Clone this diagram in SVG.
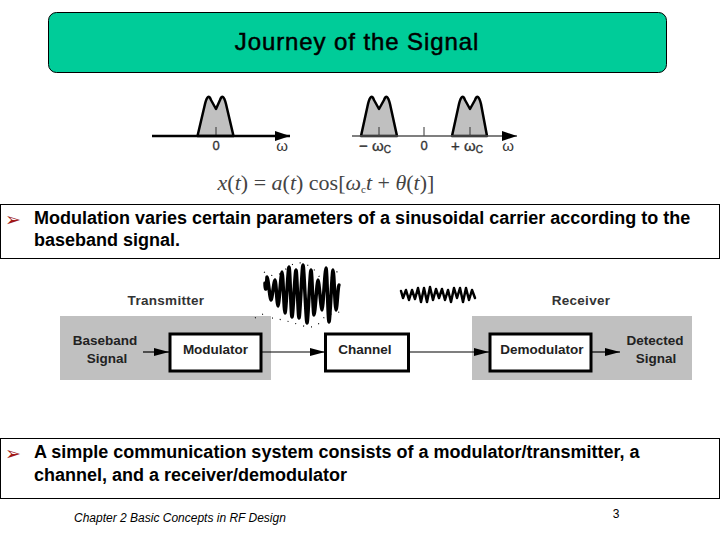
<svg xmlns="http://www.w3.org/2000/svg" width="720" height="540" viewBox="0 0 720 540">
<defs>
<style>
text{font-family:"Liberation Sans",Arial,sans-serif;fill:#000}
.b{font-size:18px;font-weight:bold}
.m{font-family:"DejaVu Sans",sans-serif;font-size:19px;fill:#a01818}
.d{font-size:13.5px;font-weight:bold;fill:#222}
.l{font-size:13.500px;font-weight:bold;fill:#333;letter-spacing:.3px}
.s{font-size:13px;fill:#333}
.h{stroke:#333;stroke-width:.35px}
.box{fill:#fff;stroke:#000;stroke-width:3}
.grey{fill:#c0c0c0}
.bump{fill:#c0c0c0;stroke:#000;stroke-width:2.500;stroke-linejoin:round}
.lnk{stroke:#000;stroke-width:1.200;fill:none}
.wave{fill:none;stroke:#000;stroke-width:3.500;stroke-linejoin:round;stroke-linecap:round}
.env{fill:none;stroke:#000;stroke-width:1.200;stroke-dasharray:1 7}
.tick{stroke:#333;stroke-width:1}
</style>
<marker id="ah" markerUnits="userSpaceOnUse" markerWidth="15" markerHeight="8" refX="15" refY="4" orient="auto"><path d="M0 0L15 4L0 8z" fill="#000"/></marker>
<marker id="ax" markerUnits="userSpaceOnUse" markerWidth="15" markerHeight="10" refX="15" refY="5" orient="auto"><path d="M0 0L15 5L0 10z" fill="#000"/></marker>
</defs>
<rect width="720" height="540" fill="#fff"/>
<g id="title"><rect x="48.500" y="12.500" width="618" height="60" rx="8" fill="#00cc99" stroke="#000" stroke-width="1"/><text x="357" y="50" text-anchor="middle" font-size="24" letter-spacing=".9" stroke="#000" stroke-width=".5">Journey of the Signal</text></g>

<g id="spectrum-baseband">
<path class="bump" d="M197.500 136L205 104Q208 92 211 100L216 109L220 100Q223 92 226 104L233.500 136z"/>
<path class="tick" d="M216 127V136"/>
<path d="M152 136H290" stroke="#000" stroke-width="2.500" marker-end="url(#ax)"/>
<text class="s h" x="216" y="150" text-anchor="middle">0</text>
<text class="s" x="282" y="151" text-anchor="middle" style="font-size:15px">ω</text>
</g>
<g id="spectrum-passband">
<path class="bump" d="M361 136L368 104Q371 92 374 100L379 109L384 100Q387 92 390 104L397 136z"/>
<path class="bump" d="M452 136L459 104Q462 92 465 100L470 109L475 100Q478 92 481 104L487 136z"/>
<path class="tick" d="M379 127V136M424 127V136M470 127V136"/>
<path d="M352 136H517" stroke="#555" stroke-width="1.500" marker-end="url(#ax)"/>
<text class="s h" x="375" y="151" text-anchor="middle" style="font-size:15px">− ω<tspan font-size="10" dy="2">C</tspan></text>
<text class="s h" x="424" y="150" text-anchor="middle">0</text>
<text class="s h" x="467" y="151" text-anchor="middle" style="font-size:15px">+ ω<tspan font-size="10" dy="2">C</tspan></text>
<text class="s" x="508" y="151" text-anchor="middle" style="font-size:15px">ω</text>
</g>
<g id="equation"><text x="326" y="190" text-anchor="middle" font-size="22" style="font-family:'Liberation Serif',serif;fill:#444"><tspan font-style="italic">x</tspan>(<tspan font-style="italic">t</tspan>) = <tspan font-style="italic">a</tspan>(<tspan font-style="italic">t</tspan>) cos[<tspan font-style="italic">ω</tspan><tspan font-size="11" dy="3">c</tspan><tspan font-style="italic" dy="-3">t</tspan> + <tspan font-style="italic">θ</tspan>(<tspan font-style="italic">t</tspan>)]</text></g>

<g id="bullet-1">
<rect x="0.500" y="204.500" width="719" height="54" fill="#fff" stroke="#000" stroke-width="1"/>
<text class="m" x="5" y="226">➢</text>
<text class="b" x="34" y="224">Modulation varies certain parameters of a sinusoidal carrier according to the</text>
<text class="b" x="34" y="246">baseband signal.</text>
</g>

<g id="transmitter-area"><rect class="grey" x="60" y="316" width="211" height="64"/><text class="l" x="166" y="305" text-anchor="middle">Transmitter</text></g>
<g id="receiver-area"><rect class="grey" x="472" y="316" width="220" height="64"/><text class="l" x="581" y="305" text-anchor="middle">Receiver</text></g>
<g id="baseband"><text class="d" x="105" y="345" text-anchor="middle">Baseband</text><text class="d" x="107" y="363" text-anchor="middle">Signal</text></g>
<g id="modulator"><rect class="box" x="170" y="334" width="91" height="37"/><text class="d" x="215.500" y="354" text-anchor="middle">Modulator</text></g>
<g id="channel"><rect class="box" x="325.500" y="334" width="83" height="37"/><text class="d" x="365" y="354" text-anchor="middle">Channel</text></g>
<g id="demodulator"><rect class="box" x="490" y="334" width="101" height="37"/><text class="d" x="542" y="354" text-anchor="middle">Demodulator</text></g>
<g id="detected"><text class="d" x="655" y="345" text-anchor="middle">Detected</text><text class="d" x="656" y="363" text-anchor="middle">Signal</text></g>

<g id="connectors">
<path class="lnk" d="M143 352H169" marker-end="url(#ah)"/>
<path class="lnk" d="M262 352H325" marker-end="url(#ah)"/>
<path class="lnk" d="M410 352H489" marker-end="url(#ah)"/>
<path class="lnk" d="M592 352H620" marker-end="url(#ah)"/>
</g>

<g id="wave-large">
<path class="wave" d="M265 283C265 288 266 296 267 277C268 277 270 300 271 300C272 300 274 280 275 280C276 280 277 306 278 306C279 306 281 272 282 272C283 272 284 313 285 313C286 313 288 267 289 267C290 267 291 317 292 317C293 317 295 270 296 270C297 270 298 318 299 318C300 318 302 265 303 265C304 265 306 323 307 323C308 323 310 270 311 270C312 270 313 315 314 315C315 315 317 280 318 280C319 280 321 310 322 310C323 310 325 268 326 268C327 268 328 322 329 322C330 322 332 270 333 270C334 270 335 310 336 310C337 310 338 285 339 285"/>
<path class="env" d="M264 272Q275 280 285 270T305 264T320 278T340 268M272 318Q285 320 300 325T320 322T340 312M263 314L251 320"/>
</g>
<g id="wave-small">
<path class="wave" style="stroke-width:2.500" d="M401 291L403 298L406 290L409 300L412 290L415 299L418 288L421 302L424 288L427 302L430 287L433 300L436 289L439 298L442 289L445 300L448 290L451 302L454 288L457 298L460 288L463 302L466 288L469 300L472 290L475 298"/>
</g>

<g id="bullet-2">
<rect x="0.500" y="438.500" width="719" height="60" fill="#fff" stroke="#000" stroke-width="1"/>
<text class="m" x="5" y="460">➢</text>
<text class="b" x="34" y="458">A simple communication system consists of a modulator/transmitter, a</text>
<text class="b" x="34" y="481">channel, and a receiver/demodulator</text>
</g>
<g id="footer"><text x="74" y="522" font-size="12" font-style="italic">Chapter 2 Basic Concepts in RF Design</text><text x="616" y="518" text-anchor="middle" font-size="12">3</text></g>
</svg>
